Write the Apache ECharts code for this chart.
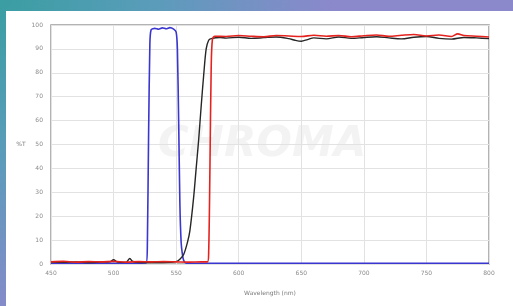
<!DOCTYPE html>
<html>
<head>
<meta charset="utf-8">
<script src="https://cdn.jsdelivr.net/npm/echarts@6/dist/echarts.min.js"></script>
<style>
html, body { margin: 0; padding: 0; }
#container { width: 513px; height: 306px; }
</style>
</head>
<body>
<div id="container"></div>
<script>
var dom = document.getElementById("container");
var myChart = echarts.init(dom);

// wavelength (nm) and %T
var blueX = [450, 500, 526, 527, 528, 529, 530, 533, 536, 539, 542, 545, 548, 550, 551, 552, 553, 554, 555, 556, 558, 600, 700, 800];
var blueY = [0.3, 0.3, 0.4, 8, 55, 92, 98, 98.6, 98.2, 98.8, 98.4, 98.9, 98.3, 97, 90, 60, 25, 9, 4, 1.5, 0.3, 0.3, 0.3, 0.3];

var blackX = [450, 460, 470, 480, 490, 497, 500, 503, 510, 513, 515, 518, 530, 545, 550, 553, 556, 559, 561, 564, 566, 568, 570, 572, 574, 576, 578,
  585, 590, 600, 610, 620, 630, 640, 645, 650, 655, 660, 670, 680, 690, 700, 710, 720, 730, 740, 750, 760, 770, 780, 790, 800];
var blackY = [0.8, 0.7, 0.9, 0.6, 0.8, 0.9, 1.8, 0.8, 0.7, 2.3, 1.2, 0.7, 0.6, 0.7, 1, 2, 4, 9, 14, 28, 40, 52, 66, 79, 90, 93.6, 94.3,
  94.8, 94.5, 94.9, 94.4, 94.7, 95, 94.3, 93.6, 93.2, 93.9, 94.6, 94.2, 95, 94.4, 94.8, 95.1, 94.6, 94.2, 94.9, 95.2, 94.4, 94.1, 94.8, 94.6, 94.3];

var redX = [450, 460, 470, 480, 490, 500, 510, 520, 530, 540, 550, 560, 570, 575, 576, 577, 578, 579, 581,
  590, 600, 610, 620, 630, 640, 650, 660, 670, 680, 690, 700, 710, 720, 730, 740, 750, 760, 770, 775, 780, 790, 800];
var redY = [0.9, 1.1, 0.8, 1, 0.9, 1.1, 0.8, 1, 0.9, 1, 0.9, 0.8, 0.9, 0.9, 5, 40, 82, 94, 95.3,
  95.2, 95.6, 95.3, 95.1, 95.6, 95.4, 95.2, 95.7, 95.3, 95.6, 95.1, 95.5, 95.8, 95.3, 95.7, 96, 95.4, 95.8, 95.2, 96.3, 95.6, 95.3, 95];

var xTicks = [450, 500, 550, 600, 650, 700, 750, 800];

function pairs(xs, ys) {
    return xs.map(function (x, i) { return [x, ys[i]]; });
}

var tickStyle = { color: '#8a8a8a', fontSize: 6, fontFamily: 'DejaVu Sans' };

option = {
    backgroundColor: new echarts.graphic.RadialGradient(0, 0, 1.1, [
        { offset: 0, color: '#3a9ea2' },
        { offset: 0.45, color: '#5a9cba' },
        { offset: 1, color: '#8c88cc' }
    ]),
    animation: false,
    graphic: [{
        type: 'rect',
        left: 6, top: 11,
        shape: { width: 507, height: 295 },
        style: { fill: '#ffffff' },
        z: -10
    }, {
        type: 'text',
        left: 158, top: 124,
        style: {
            text: 'CHROMA',
            font: 'italic bold 42px "DejaVu Sans"',
            fill: 'rgba(200,200,200,0.22)'
        },
        z: -5
    }],
    grid: {
        left: 51,
        right: 24,
        top: 25,
        bottom: 42,
        show: true,
        borderColor: '#9a9a9a',
        borderWidth: 1.5,
        backgroundColor: 'transparent'
    },
    xAxis: {
        type: 'value',
        min: 450,
        max: 800,
        interval: 50,
        name: 'Wavelength (nm)',
        nameLocation: 'middle',
        nameGap: 26,
        nameTextStyle: { color: '#7a7a7a', fontSize: 6, fontFamily: 'DejaVu Sans' },
        axisLine: { show: false },
        axisTick: { show: false },
        axisLabel: {
            margin: 6,
            color: tickStyle.color, fontSize: tickStyle.fontSize, fontFamily: tickStyle.fontFamily,
            formatter: function (v) { return xTicks.indexOf(v) >= 0 ? String(v) : ''; }
        },
        splitLine: { lineStyle: { color: '#e2e2e2', width: 1 } }
    },
    yAxis: {
        type: 'value',
        min: 0,
        max: 100,
        interval: 10,
        name: '%T',
        nameLocation: 'middle',
        nameGap: 24,
        nameRotate: 0,
        nameTextStyle: { color: '#7a7a7a', fontSize: 6, fontFamily: 'DejaVu Sans' },
        axisLine: { show: false },
        axisTick: { show: false },
        axisLabel: { margin: 8, color: tickStyle.color, fontSize: tickStyle.fontSize, fontFamily: tickStyle.fontFamily },
        splitLine: { lineStyle: { color: '#e2e2e2', width: 1 } }
    },
    series: [{
        name: 'blue',
        type: 'line',
        showSymbol: false,
        smooth: 0.2,
        lineStyle: { color: '#3a36d0', width: 1.6 },
        data: pairs(blueX, blueY),
        z: 3
    }, {
        name: 'black',
        type: 'line',
        showSymbol: false,
        smooth: 0.3,
        lineStyle: { color: '#262626', width: 1.4 },
        data: pairs(blackX, blackY),
        z: 4
    }, {
        name: 'red',
        type: 'line',
        showSymbol: false,
        smooth: 0.3,
        lineStyle: { color: '#e4231f', width: 1.6 },
        data: pairs(redX, redY),
        z: 5
    }]
};

if (option && typeof option === "object") {
    myChart.setOption(option, true);
}
</script>
</body>
</html>
